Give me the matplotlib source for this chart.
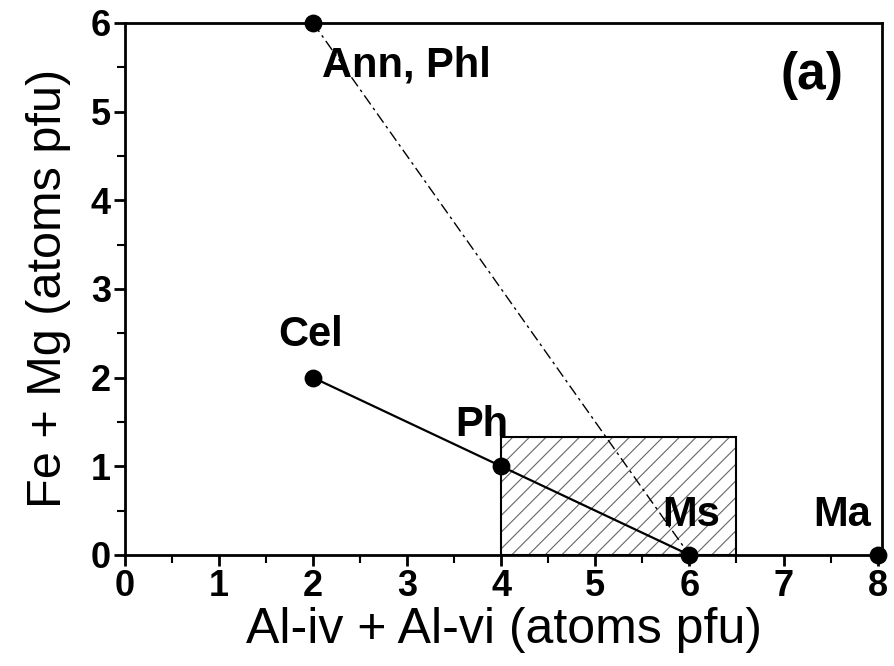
import matplotlib
matplotlib.use("Agg")
import matplotlib.pyplot as plt
from matplotlib.patches import Rectangle
from matplotlib.ticker import MultipleLocator

# Data
points_x = [2, 2, 4, 6, 8]
points_y = [6, 2, 1, 0, 0]
labels = ["Ann, Phl", "Cel", "Ph", "Ms", "Ma"]
dash_line_x = [2, 6]
dash_line_y = [6, 0]
solid_line_x = [2, 4, 6]
solid_line_y = [2, 1, 0]
box_x = [4, 6.5]
box_y = [0, 1.33]
x_ticks = [0, 1, 2, 3, 4, 5, 6, 7, 8]
y_ticks = [0, 1, 2, 3, 4, 5, 6]

plt.rcParams['font.family'] = ['Liberation Sans', 'DejaVu Sans']
plt.rcParams['hatch.linewidth'] = 0.8

fig = plt.figure(figsize=(8.94, 6.66), dpi=100)
ax = fig.add_axes([0.1395, 0.1667, 0.8475, 0.799])

ax.add_patch(Rectangle((box_x[0], box_y[0]), box_x[1] - box_x[0], box_y[1] - box_y[0],
                       facecolor='white', edgecolor='#666666', linewidth=0,
                       hatch='//', zorder=1))
ax.add_patch(Rectangle((box_x[0], box_y[0]), box_x[1] - box_x[0], box_y[1] - box_y[0],
                       facecolor='none', edgecolor='black', linewidth=1.5, zorder=1.5))
ax.plot(dash_line_x, dash_line_y, color='black', linestyle=(0, (8, 3, 2, 3)), linewidth=1.0, zorder=2)
ax.plot(solid_line_x, solid_line_y, color='black', linewidth=1.6, zorder=2)
ax.scatter(points_x, points_y, s=140, color='black', zorder=5, clip_on=False)

fs = 30
ax.text(2.1, 5.52, labels[0], fontsize=fs, ha='left', va='center', fontweight='bold')
ax.text(1.98, 2.48, labels[1], fontsize=fs, ha='center', va='center', fontweight='bold')
ax.text(3.79, 1.47, labels[2], fontsize=fs, ha='center', va='center', fontweight='bold')
ax.text(6.02, 0.45, labels[3], fontsize=fs, ha='center', va='center', fontweight='bold')
ax.text(7.62, 0.45, labels[4], fontsize=fs, ha='center', va='center', fontweight='bold')
ax.text(7.3, 5.41, "(a)", fontsize=37, ha='center', va='center', fontweight='bold')

ax.set_xlim(0, 8.05)
ax.set_ylim(0, 6)
ax.set_xticks(x_ticks)
ax.set_yticks(y_ticks)
ax.xaxis.set_minor_locator(MultipleLocator(0.5))
ax.yaxis.set_minor_locator(MultipleLocator(0.5))
ax.tick_params(which='major', direction='out', length=8, width=2, labelsize=26, pad=2)
ax.tick_params(which='minor', direction='out', length=6, width=1.5)
for lab in ax.get_xticklabels() + ax.get_yticklabels():
    lab.set_fontweight('bold')
for sp in ax.spines.values():
    sp.set_linewidth(2)

ax.set_xlabel("Al-iv + Al-vi (atoms pfu)", fontsize=36, labelpad=2)
ax.set_ylabel("Fe + Mg (atoms pfu)", fontsize=35, labelpad=14)

fig.savefig("out.png", dpi=100)
